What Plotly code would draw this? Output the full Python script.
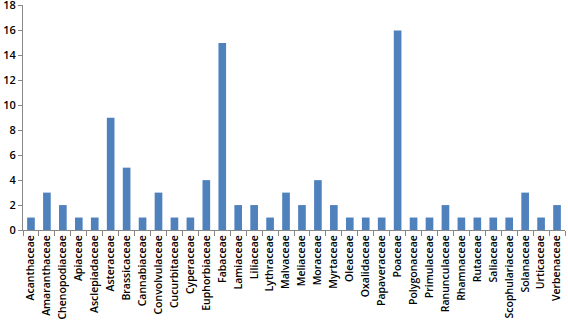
import plotly.graph_objects as go

families = ["Acanthaceae", "Amaranthaceae", "Chenopodiaceae", "Apiaceae", "Asclepiadaceae",
            "Asteraceae", "Brassicaceae", "Cannabiaceae", "Convolvulaceae", "Cucurbitaceae",
            "Cyperaceae", "Euphorbiaceae", "Fabaceae", "Lamiaceae", "Liliaceae", "Lythraceae",
            "Malvaceae", "Meliaceae", "Moraceae", "Myrtaceae", "Oleaceae", "Oxalidaceae",
            "Papaveraceae", "Poaceae", "Polygonaceae", "Primulaceae", "Ranunculaceae",
            "Rhamnaceae", "Rutaceae", "Saliaceae", "Scophulariaceae", "Solanaceae",
            "Urticaceae", "Verbenaceae"]
counts = [1, 3, 2, 1, 1, 9, 5, 1, 3, 1, 1, 4, 15, 2, 2, 1, 3, 2, 4, 2, 1, 1, 1, 16,
          1, 1, 2, 1, 1, 1, 1, 3, 1, 2]
y_ticks = [0, 2, 4, 6, 8, 10, 12, 14, 16, 18]

fig = go.Figure(go.Bar(x=families, y=counts, marker_color="#4f81bd",
                       marker_line_width=0))

font = dict(family="Open Sans, Liberation Sans, sans-serif", size=10.5, color="#000")
fig.update_layout(
    width=568, height=322,
    margin=dict(l=23, r=3, t=5, b=92, autoexpand=False),
    paper_bgcolor="white", plot_bgcolor="white",
    bargap=0.52, showlegend=False, font=font,
)
fig.update_xaxes(
    type="category", tickangle=-90, tickson="boundaries",
    range=[-0.5, len(families) - 0.5], automargin=False,
    ticks="outside", ticklen=5, tickcolor="#888", showline=True,
    linecolor="#888", linewidth=1, showgrid=False,
    tickfont=dict(size=10.5, weight=600),
)
fig.update_yaxes(
    range=[0, 18.05], tickvals=y_ticks, ticks="outside", ticklen=4, automargin=False,
    tickcolor="#888", showline=True, linecolor="#888", linewidth=1,
    showgrid=False, zeroline=False, tickfont=dict(size=11, color="#000", weight=600),
    ticklabeloverflow="allow",
)
fig.write_html("out.html", config={"displayModeBar": False})

with open("out.html", encoding="utf-8") as f:
    html = f.read()
html = html.replace("<head>", "<head><style>html,body{margin:0;padding:0;overflow:hidden;}</style>", 1)
with open("out.html", "w", encoding="utf-8") as f:
    f.write(html)
